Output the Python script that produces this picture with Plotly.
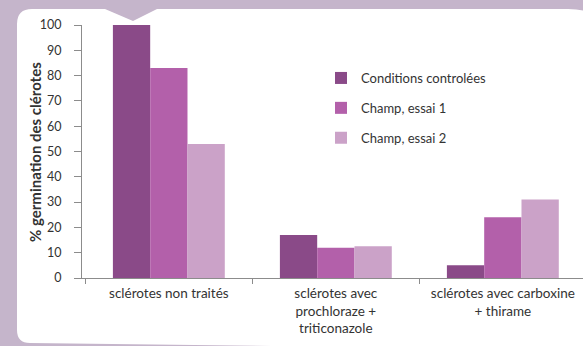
import plotly.graph_objects as go

categories = ["sclérotes non traités",
              "sclérotes avec<br>prochloraze +<br>triticonazole",
              "sclérotes avec carboxine<br>+ thirame"]
series_names = ["Conditions controlées", "Champ, essai 1", "Champ, essai 2"]
cond_controlees = [100, 17, 5]
champ_essai1 = [83, 12, 24]
champ_essai2 = [53, 12.5, 31]
colors = ["#8a4a88", "#b360aa", "#cba2c8"]
y_title = "% germination des clérotes"

W, H = 583, 346
L, R, T, B = 82, 0, 25, 68
pw, ph = W - L - R, H - T - B

def px(x):
    return (x - L) / pw

def py(y):
    return (H - B - y) / ph

fig = go.Figure()
for name, vals, c in zip(series_names, [cond_controlees, champ_essai1, champ_essai2], colors):
    fig.add_trace(go.Bar(x=categories, y=vals, name=name, marker=dict(color=c, line=dict(width=0)),
                         legendgroup=name))

# background panel (white rounded card with notch) on purple page
path = (f"M {px(17)},{py(24)} Q {px(17)},{py(9)} {px(32)},{py(9)} "
        f"L {px(105)},{py(9)} L {px(133)},{py(21)} L {px(157)},{py(9)} "
        f"L {px(568)},{py(9)} Q {px(592)},{py(9)} {px(595)},{py(20)} "
        f"L {px(595)},{py(350)} L {px(30)},{py(343)} Q {px(17)},{py(343)} {px(17)},{py(330)} Z")
fig.add_shape(type="path", path=path, xref="paper", yref="paper",
              fillcolor="white", line=dict(width=0), layer="below")

fig.add_annotation(text=f"<b>{y_title}</b>", xref="paper", yref="paper",
                   x=px(35), y=py(152), textangle=-90, showarrow=False,
                   xanchor="center", yanchor="middle",
                   font=dict(size=15, color="#333333"))

fig.update_layout(
    width=W, height=H,
    margin=dict(l=L, r=R, t=T, b=B, autoexpand=False),
    paper_bgcolor="#c5b5cb",
    plot_bgcolor="rgba(0,0,0,0)",
    barmode="group", bargap=0.33, bargroupgap=0,
    font=dict(family="Lato, Open Sans, sans-serif", color="#333333", size=12),
    showlegend=True,
    legend=dict(x=px(321), y=py(63), xanchor="left", yanchor="top",
                bgcolor="rgba(0,0,0,0)", font=dict(size=13, color="#333333"),
                tracegroupgap=10, itemwidth=30),
    xaxis=dict(range=[-0.52, 2.48], showline=True, linecolor="#8c8c8c", linewidth=1,
               ticks="outside", tickson="boundaries", ticklen=5, tickcolor="#8c8c8c",
               tickfont=dict(size=13.5, color="#333333"), showgrid=False, zeroline=False,
               ticklabelstandoff=3, automargin=False),
    yaxis=dict(range=[0, 100], dtick=10, showline=True, linecolor="#8c8c8c", linewidth=1,
               ticks="outside", ticklen=7, tickcolor="#8c8c8c", showgrid=False, zeroline=False,
               tickfont=dict(size=12.5, color="#333333"), ticklabelstandoff=10,
               automargin=False),
)

fig.write_html("out.html")
